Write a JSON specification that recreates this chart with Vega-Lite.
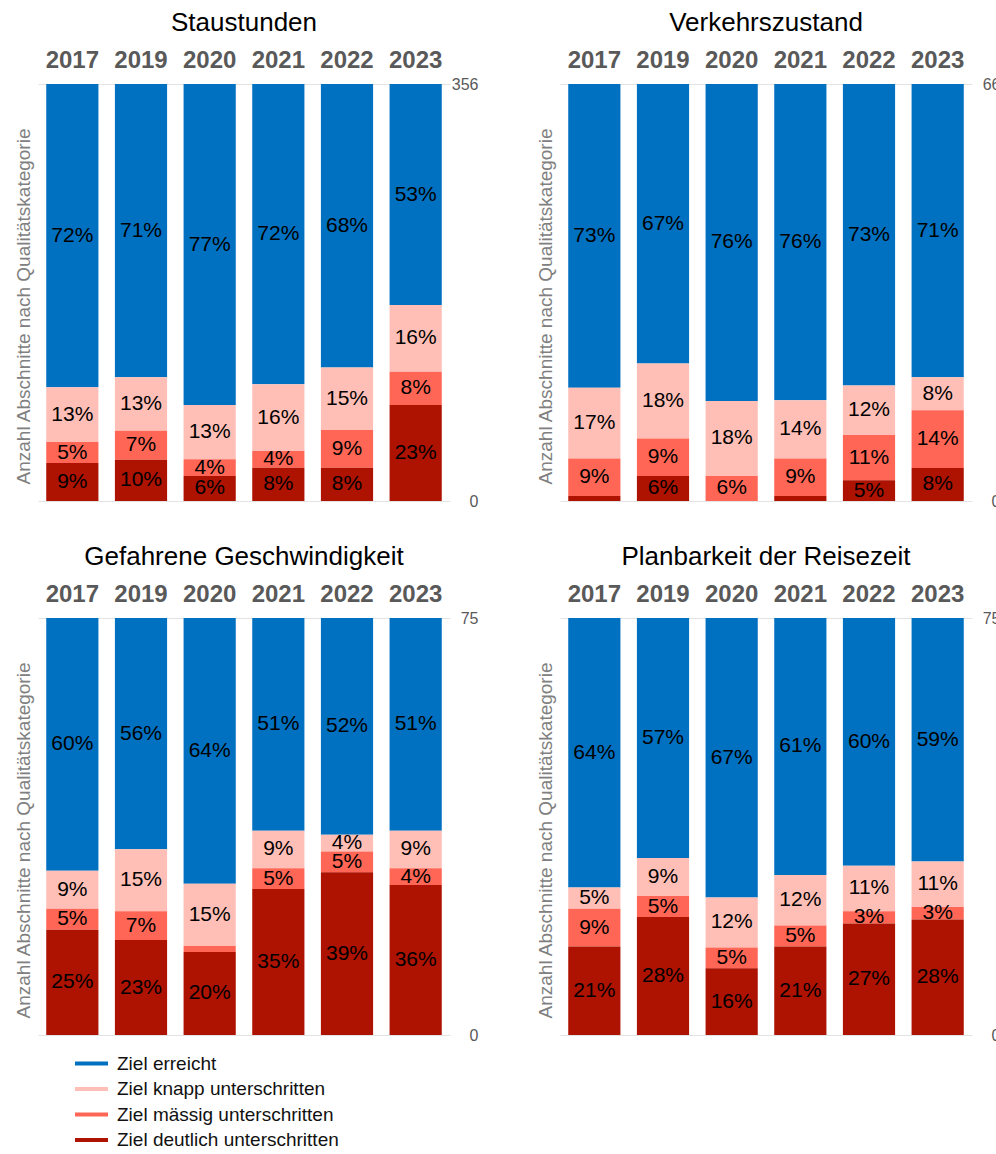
{
  "$schema": "https://vega.github.io/schema/vega-lite/v6.json",
  "background": "white",
  "padding": {"left": 14, "top": 10, "right": 0, "bottom": 0},
  "config": {
    "font": "Liberation Sans",
    "view": {"stroke": null},
    "title": {"fontSize": 26, "fontWeight": "normal", "color": "#000000", "offset": 12},
    "legend": {"orient": "none", "legendX": 35, "legendY": 967, "title": null, "symbolType": "stroke", "symbolStrokeWidth": 4, "symbolSize": 1089, "clipHeight": 25, "rowPadding": 0.5, "labelFontSize": 19, "labelColor": "#111111", "labelOffset": 7, "labelLimit": 0}
  },
  "datasets": {
    "d": [
      {"p": "Staustunden", "y": "2017", "c": "Ziel erreicht", "k": 3, "v": 0.72},
      {"p": "Staustunden", "y": "2017", "c": "Ziel knapp unterschritten", "k": 2, "v": 0.13},
      {"p": "Staustunden", "y": "2017", "c": "Ziel mässig unterschritten", "k": 1, "v": 0.05},
      {"p": "Staustunden", "y": "2017", "c": "Ziel deutlich unterschritten", "k": 0, "v": 0.09},
      {"p": "Staustunden", "y": "2019", "c": "Ziel erreicht", "k": 3, "v": 0.71},
      {"p": "Staustunden", "y": "2019", "c": "Ziel knapp unterschritten", "k": 2, "v": 0.13},
      {"p": "Staustunden", "y": "2019", "c": "Ziel mässig unterschritten", "k": 1, "v": 0.07},
      {"p": "Staustunden", "y": "2019", "c": "Ziel deutlich unterschritten", "k": 0, "v": 0.10},
      {"p": "Staustunden", "y": "2020", "c": "Ziel erreicht", "k": 3, "v": 0.77},
      {"p": "Staustunden", "y": "2020", "c": "Ziel knapp unterschritten", "k": 2, "v": 0.13},
      {"p": "Staustunden", "y": "2020", "c": "Ziel mässig unterschritten", "k": 1, "v": 0.04},
      {"p": "Staustunden", "y": "2020", "c": "Ziel deutlich unterschritten", "k": 0, "v": 0.06},
      {"p": "Staustunden", "y": "2021", "c": "Ziel erreicht", "k": 3, "v": 0.72},
      {"p": "Staustunden", "y": "2021", "c": "Ziel knapp unterschritten", "k": 2, "v": 0.16},
      {"p": "Staustunden", "y": "2021", "c": "Ziel mässig unterschritten", "k": 1, "v": 0.04},
      {"p": "Staustunden", "y": "2021", "c": "Ziel deutlich unterschritten", "k": 0, "v": 0.08},
      {"p": "Staustunden", "y": "2022", "c": "Ziel erreicht", "k": 3, "v": 0.68},
      {"p": "Staustunden", "y": "2022", "c": "Ziel knapp unterschritten", "k": 2, "v": 0.15},
      {"p": "Staustunden", "y": "2022", "c": "Ziel mässig unterschritten", "k": 1, "v": 0.09},
      {"p": "Staustunden", "y": "2022", "c": "Ziel deutlich unterschritten", "k": 0, "v": 0.08},
      {"p": "Staustunden", "y": "2023", "c": "Ziel erreicht", "k": 3, "v": 0.53},
      {"p": "Staustunden", "y": "2023", "c": "Ziel knapp unterschritten", "k": 2, "v": 0.16},
      {"p": "Staustunden", "y": "2023", "c": "Ziel mässig unterschritten", "k": 1, "v": 0.08},
      {"p": "Staustunden", "y": "2023", "c": "Ziel deutlich unterschritten", "k": 0, "v": 0.23},

      {"p": "Verkehrszustand", "y": "2017", "c": "Ziel erreicht", "k": 3, "v": 0.73},
      {"p": "Verkehrszustand", "y": "2017", "c": "Ziel knapp unterschritten", "k": 2, "v": 0.17},
      {"p": "Verkehrszustand", "y": "2017", "c": "Ziel mässig unterschritten", "k": 1, "v": 0.09},
      {"p": "Verkehrszustand", "y": "2017", "c": "Ziel deutlich unterschritten", "k": 0, "v": 0.012},
      {"p": "Verkehrszustand", "y": "2019", "c": "Ziel erreicht", "k": 3, "v": 0.67},
      {"p": "Verkehrszustand", "y": "2019", "c": "Ziel knapp unterschritten", "k": 2, "v": 0.18},
      {"p": "Verkehrszustand", "y": "2019", "c": "Ziel mässig unterschritten", "k": 1, "v": 0.09},
      {"p": "Verkehrszustand", "y": "2019", "c": "Ziel deutlich unterschritten", "k": 0, "v": 0.06},
      {"p": "Verkehrszustand", "y": "2020", "c": "Ziel erreicht", "k": 3, "v": 0.76},
      {"p": "Verkehrszustand", "y": "2020", "c": "Ziel knapp unterschritten", "k": 2, "v": 0.18},
      {"p": "Verkehrszustand", "y": "2020", "c": "Ziel mässig unterschritten", "k": 1, "v": 0.06},
      {"p": "Verkehrszustand", "y": "2021", "c": "Ziel erreicht", "k": 3, "v": 0.76},
      {"p": "Verkehrszustand", "y": "2021", "c": "Ziel knapp unterschritten", "k": 2, "v": 0.14},
      {"p": "Verkehrszustand", "y": "2021", "c": "Ziel mässig unterschritten", "k": 1, "v": 0.09},
      {"p": "Verkehrszustand", "y": "2021", "c": "Ziel deutlich unterschritten", "k": 0, "v": 0.012},
      {"p": "Verkehrszustand", "y": "2022", "c": "Ziel erreicht", "k": 3, "v": 0.73},
      {"p": "Verkehrszustand", "y": "2022", "c": "Ziel knapp unterschritten", "k": 2, "v": 0.12},
      {"p": "Verkehrszustand", "y": "2022", "c": "Ziel mässig unterschritten", "k": 1, "v": 0.11},
      {"p": "Verkehrszustand", "y": "2022", "c": "Ziel deutlich unterschritten", "k": 0, "v": 0.05},
      {"p": "Verkehrszustand", "y": "2023", "c": "Ziel erreicht", "k": 3, "v": 0.71},
      {"p": "Verkehrszustand", "y": "2023", "c": "Ziel knapp unterschritten", "k": 2, "v": 0.08},
      {"p": "Verkehrszustand", "y": "2023", "c": "Ziel mässig unterschritten", "k": 1, "v": 0.14},
      {"p": "Verkehrszustand", "y": "2023", "c": "Ziel deutlich unterschritten", "k": 0, "v": 0.08},

      {"p": "Gefahrene Geschwindigkeit", "y": "2017", "c": "Ziel erreicht", "k": 3, "v": 0.60},
      {"p": "Gefahrene Geschwindigkeit", "y": "2017", "c": "Ziel knapp unterschritten", "k": 2, "v": 0.09},
      {"p": "Gefahrene Geschwindigkeit", "y": "2017", "c": "Ziel mässig unterschritten", "k": 1, "v": 0.05},
      {"p": "Gefahrene Geschwindigkeit", "y": "2017", "c": "Ziel deutlich unterschritten", "k": 0, "v": 0.25},
      {"p": "Gefahrene Geschwindigkeit", "y": "2019", "c": "Ziel erreicht", "k": 3, "v": 0.56},
      {"p": "Gefahrene Geschwindigkeit", "y": "2019", "c": "Ziel knapp unterschritten", "k": 2, "v": 0.15},
      {"p": "Gefahrene Geschwindigkeit", "y": "2019", "c": "Ziel mässig unterschritten", "k": 1, "v": 0.07},
      {"p": "Gefahrene Geschwindigkeit", "y": "2019", "c": "Ziel deutlich unterschritten", "k": 0, "v": 0.23},
      {"p": "Gefahrene Geschwindigkeit", "y": "2020", "c": "Ziel erreicht", "k": 3, "v": 0.64},
      {"p": "Gefahrene Geschwindigkeit", "y": "2020", "c": "Ziel knapp unterschritten", "k": 2, "v": 0.15},
      {"p": "Gefahrene Geschwindigkeit", "y": "2020", "c": "Ziel mässig unterschritten", "k": 1, "v": 0.014},
      {"p": "Gefahrene Geschwindigkeit", "y": "2020", "c": "Ziel deutlich unterschritten", "k": 0, "v": 0.20},
      {"p": "Gefahrene Geschwindigkeit", "y": "2021", "c": "Ziel erreicht", "k": 3, "v": 0.51},
      {"p": "Gefahrene Geschwindigkeit", "y": "2021", "c": "Ziel knapp unterschritten", "k": 2, "v": 0.09},
      {"p": "Gefahrene Geschwindigkeit", "y": "2021", "c": "Ziel mässig unterschritten", "k": 1, "v": 0.05},
      {"p": "Gefahrene Geschwindigkeit", "y": "2021", "c": "Ziel deutlich unterschritten", "k": 0, "v": 0.35},
      {"p": "Gefahrene Geschwindigkeit", "y": "2022", "c": "Ziel erreicht", "k": 3, "v": 0.52},
      {"p": "Gefahrene Geschwindigkeit", "y": "2022", "c": "Ziel knapp unterschritten", "k": 2, "v": 0.04},
      {"p": "Gefahrene Geschwindigkeit", "y": "2022", "c": "Ziel mässig unterschritten", "k": 1, "v": 0.05},
      {"p": "Gefahrene Geschwindigkeit", "y": "2022", "c": "Ziel deutlich unterschritten", "k": 0, "v": 0.39},
      {"p": "Gefahrene Geschwindigkeit", "y": "2023", "c": "Ziel erreicht", "k": 3, "v": 0.51},
      {"p": "Gefahrene Geschwindigkeit", "y": "2023", "c": "Ziel knapp unterschritten", "k": 2, "v": 0.09},
      {"p": "Gefahrene Geschwindigkeit", "y": "2023", "c": "Ziel mässig unterschritten", "k": 1, "v": 0.04},
      {"p": "Gefahrene Geschwindigkeit", "y": "2023", "c": "Ziel deutlich unterschritten", "k": 0, "v": 0.36},

      {"p": "Planbarkeit der Reisezeit", "y": "2017", "c": "Ziel erreicht", "k": 3, "v": 0.64},
      {"p": "Planbarkeit der Reisezeit", "y": "2017", "c": "Ziel knapp unterschritten", "k": 2, "v": 0.05},
      {"p": "Planbarkeit der Reisezeit", "y": "2017", "c": "Ziel mässig unterschritten", "k": 1, "v": 0.09},
      {"p": "Planbarkeit der Reisezeit", "y": "2017", "c": "Ziel deutlich unterschritten", "k": 0, "v": 0.21},
      {"p": "Planbarkeit der Reisezeit", "y": "2019", "c": "Ziel erreicht", "k": 3, "v": 0.57},
      {"p": "Planbarkeit der Reisezeit", "y": "2019", "c": "Ziel knapp unterschritten", "k": 2, "v": 0.09},
      {"p": "Planbarkeit der Reisezeit", "y": "2019", "c": "Ziel mässig unterschritten", "k": 1, "v": 0.05},
      {"p": "Planbarkeit der Reisezeit", "y": "2019", "c": "Ziel deutlich unterschritten", "k": 0, "v": 0.28},
      {"p": "Planbarkeit der Reisezeit", "y": "2020", "c": "Ziel erreicht", "k": 3, "v": 0.67},
      {"p": "Planbarkeit der Reisezeit", "y": "2020", "c": "Ziel knapp unterschritten", "k": 2, "v": 0.12},
      {"p": "Planbarkeit der Reisezeit", "y": "2020", "c": "Ziel mässig unterschritten", "k": 1, "v": 0.05},
      {"p": "Planbarkeit der Reisezeit", "y": "2020", "c": "Ziel deutlich unterschritten", "k": 0, "v": 0.16},
      {"p": "Planbarkeit der Reisezeit", "y": "2021", "c": "Ziel erreicht", "k": 3, "v": 0.61},
      {"p": "Planbarkeit der Reisezeit", "y": "2021", "c": "Ziel knapp unterschritten", "k": 2, "v": 0.12},
      {"p": "Planbarkeit der Reisezeit", "y": "2021", "c": "Ziel mässig unterschritten", "k": 1, "v": 0.05},
      {"p": "Planbarkeit der Reisezeit", "y": "2021", "c": "Ziel deutlich unterschritten", "k": 0, "v": 0.21},
      {"p": "Planbarkeit der Reisezeit", "y": "2022", "c": "Ziel erreicht", "k": 3, "v": 0.60},
      {"p": "Planbarkeit der Reisezeit", "y": "2022", "c": "Ziel knapp unterschritten", "k": 2, "v": 0.11},
      {"p": "Planbarkeit der Reisezeit", "y": "2022", "c": "Ziel mässig unterschritten", "k": 1, "v": 0.03},
      {"p": "Planbarkeit der Reisezeit", "y": "2022", "c": "Ziel deutlich unterschritten", "k": 0, "v": 0.27},
      {"p": "Planbarkeit der Reisezeit", "y": "2023", "c": "Ziel erreicht", "k": 3, "v": 0.59},
      {"p": "Planbarkeit der Reisezeit", "y": "2023", "c": "Ziel knapp unterschritten", "k": 2, "v": 0.11},
      {"p": "Planbarkeit der Reisezeit", "y": "2023", "c": "Ziel mässig unterschritten", "k": 1, "v": 0.03},
      {"p": "Planbarkeit der Reisezeit", "y": "2023", "c": "Ziel deutlich unterschritten", "k": 0, "v": 0.28}
    ]
  },
  "data": {"name": "d"},
  "columns": 2,
  "spacing": {"column": 58, "row": 35},
  "concat": [
    {
      "title": "Staustunden",
      "width": 412, "height": 417,
      "transform": [{"filter": "datum.p == 'Staustunden'"}],
      "encoding": {
        "x": {"field": "y", "type": "ordinal", "scale": {"paddingInner": 0.24, "paddingOuter": 0.12},
              "axis": {"orient": "top", "title": null, "labelAngle": 0, "labelFontSize": 24, "labelFontWeight": "bold", "labelColor": "#595959", "ticks": false, "domain": false, "labelPadding": 12}}
      },
      "layer": [
        {"mark": {"type": "bar"},
         "encoding": {
           "y": {"field": "v", "type": "quantitative", "stack": "normalize",
                 "axis": {"orient": "left", "title": "Anzahl Abschnitte nach Qualitätskategorie", "labels": false, "ticks": false, "domain": false, "grid": false, "titleFontSize": 19, "titleFontWeight": "normal", "titleColor": "#808080", "titlePadding": 5, "titleY": 222}},
           "color": {"field": "c", "type": "nominal", "scale": {"domain": ["Ziel erreicht", "Ziel knapp unterschritten", "Ziel mässig unterschritten", "Ziel deutlich unterschritten"], "range": ["#0070C0", "#FFBFB6", "#FF6655", "#AE1200"]},
                     "legend": {"encode": {"symbols": {"update": {"stroke": {"scale": "color", "field": "value"}, "strokeWidth": {"value": 4}}}}}},
           "order": {"field": "k", "type": "quantitative"}
         }},
        {"mark": {"type": "text", "fontSize": 21, "color": "#000000"},
         "encoding": {
           "y": {"field": "v", "type": "quantitative", "stack": "normalize", "bandPosition": 0.5,
                 "axis": {"orient": "right", "title": null, "values": [0, 1], "labelExpr": "datum.value == 1 ? '356' : '0'", "ticks": false, "domain": false, "grid": true, "gridColor": "#E3E3E3", "labelFontSize": 16, "labelColor": "#595959", "labelAlign": "right", "labelPadding": 28}},
           "detail": {"field": "c"},
           "order": {"field": "k", "type": "quantitative"},
           "text": {"field": "v", "type": "quantitative", "format": ".0%"},
           "opacity": {"condition": {"test": "datum.v < 0.02", "value": 0}, "value": 1}
         }}
      ],
      "resolve": {"axis": {"y": "independent"}}
    },
    {
      "title": "Verkehrszustand",
      "width": 412, "height": 417,
      "transform": [{"filter": "datum.p == 'Verkehrszustand'"}],
      "encoding": {
        "x": {"field": "y", "type": "ordinal", "scale": {"paddingInner": 0.24, "paddingOuter": 0.12},
              "axis": {"orient": "top", "title": null, "labelAngle": 0, "labelFontSize": 24, "labelFontWeight": "bold", "labelColor": "#595959", "ticks": false, "domain": false, "labelPadding": 12}}
      },
      "layer": [
        {"mark": {"type": "bar"},
         "encoding": {
           "y": {"field": "v", "type": "quantitative", "stack": "normalize",
                 "axis": {"orient": "left", "title": "Anzahl Abschnitte nach Qualitätskategorie", "labels": false, "ticks": false, "domain": false, "grid": false, "titleFontSize": 19, "titleFontWeight": "normal", "titleColor": "#808080", "titlePadding": 5, "titleY": 222}},
           "color": {"field": "c", "type": "nominal", "scale": {"domain": ["Ziel erreicht", "Ziel knapp unterschritten", "Ziel mässig unterschritten", "Ziel deutlich unterschritten"], "range": ["#0070C0", "#FFBFB6", "#FF6655", "#AE1200"]}},
           "order": {"field": "k", "type": "quantitative"}
         }},
        {"mark": {"type": "text", "fontSize": 21, "color": "#000000"},
         "encoding": {
           "y": {"field": "v", "type": "quantitative", "stack": "normalize", "bandPosition": 0.5,
                 "axis": {"orient": "right", "title": null, "values": [0, 1], "labelExpr": "datum.value == 1 ? '66' : '0'", "ticks": false, "domain": false, "grid": true, "gridColor": "#E3E3E3", "labelFontSize": 16, "labelColor": "#595959", "labelAlign": "right", "labelPadding": 28}},
           "detail": {"field": "c"},
           "order": {"field": "k", "type": "quantitative"},
           "text": {"field": "v", "type": "quantitative", "format": ".0%"},
           "opacity": {"condition": {"test": "datum.v < 0.02", "value": 0}, "value": 1}
         }}
      ],
      "resolve": {"axis": {"y": "independent"}}
    },
    {
      "title": "Gefahrene Geschwindigkeit",
      "width": 412, "height": 417,
      "transform": [{"filter": "datum.p == 'Gefahrene Geschwindigkeit'"}],
      "encoding": {
        "x": {"field": "y", "type": "ordinal", "scale": {"paddingInner": 0.24, "paddingOuter": 0.12},
              "axis": {"orient": "top", "title": null, "labelAngle": 0, "labelFontSize": 24, "labelFontWeight": "bold", "labelColor": "#595959", "ticks": false, "domain": false, "labelPadding": 12}}
      },
      "layer": [
        {"mark": {"type": "bar"},
         "encoding": {
           "y": {"field": "v", "type": "quantitative", "stack": "normalize",
                 "axis": {"orient": "left", "title": "Anzahl Abschnitte nach Qualitätskategorie", "labels": false, "ticks": false, "domain": false, "grid": false, "titleFontSize": 19, "titleFontWeight": "normal", "titleColor": "#808080", "titlePadding": 5, "titleY": 222}},
           "color": {"field": "c", "type": "nominal", "scale": {"domain": ["Ziel erreicht", "Ziel knapp unterschritten", "Ziel mässig unterschritten", "Ziel deutlich unterschritten"], "range": ["#0070C0", "#FFBFB6", "#FF6655", "#AE1200"]}},
           "order": {"field": "k", "type": "quantitative"}
         }},
        {"mark": {"type": "text", "fontSize": 21, "color": "#000000"},
         "encoding": {
           "y": {"field": "v", "type": "quantitative", "stack": "normalize", "bandPosition": 0.5,
                 "axis": {"orient": "right", "title": null, "values": [0, 1], "labelExpr": "datum.value == 1 ? '75' : '0'", "ticks": false, "domain": false, "grid": true, "gridColor": "#E3E3E3", "labelFontSize": 16, "labelColor": "#595959", "labelAlign": "right", "labelPadding": 28}},
           "detail": {"field": "c"},
           "order": {"field": "k", "type": "quantitative"},
           "text": {"field": "v", "type": "quantitative", "format": ".0%"},
           "opacity": {"condition": {"test": "datum.v < 0.02", "value": 0}, "value": 1}
         }}
      ],
      "resolve": {"axis": {"y": "independent"}}
    },
    {
      "title": "Planbarkeit der Reisezeit",
      "width": 412, "height": 417,
      "transform": [{"filter": "datum.p == 'Planbarkeit der Reisezeit'"}],
      "encoding": {
        "x": {"field": "y", "type": "ordinal", "scale": {"paddingInner": 0.24, "paddingOuter": 0.12},
              "axis": {"orient": "top", "title": null, "labelAngle": 0, "labelFontSize": 24, "labelFontWeight": "bold", "labelColor": "#595959", "ticks": false, "domain": false, "labelPadding": 12}}
      },
      "layer": [
        {"mark": {"type": "bar"},
         "encoding": {
           "y": {"field": "v", "type": "quantitative", "stack": "normalize",
                 "axis": {"orient": "left", "title": "Anzahl Abschnitte nach Qualitätskategorie", "labels": false, "ticks": false, "domain": false, "grid": false, "titleFontSize": 19, "titleFontWeight": "normal", "titleColor": "#808080", "titlePadding": 5, "titleY": 222}},
           "color": {"field": "c", "type": "nominal", "scale": {"domain": ["Ziel erreicht", "Ziel knapp unterschritten", "Ziel mässig unterschritten", "Ziel deutlich unterschritten"], "range": ["#0070C0", "#FFBFB6", "#FF6655", "#AE1200"]}},
           "order": {"field": "k", "type": "quantitative"}
         }},
        {"mark": {"type": "text", "fontSize": 21, "color": "#000000"},
         "encoding": {
           "y": {"field": "v", "type": "quantitative", "stack": "normalize", "bandPosition": 0.5,
                 "axis": {"orient": "right", "title": null, "values": [0, 1], "labelExpr": "datum.value == 1 ? '75' : '0'", "ticks": false, "domain": false, "grid": true, "gridColor": "#E3E3E3", "labelFontSize": 16, "labelColor": "#595959", "labelAlign": "right", "labelPadding": 28}},
           "detail": {"field": "c"},
           "order": {"field": "k", "type": "quantitative"},
           "text": {"field": "v", "type": "quantitative", "format": ".0%"},
           "opacity": {"condition": {"test": "datum.v < 0.02", "value": 0}, "value": 1}
         }}
      ],
      "resolve": {"axis": {"y": "independent"}}
    }
  ]
}
